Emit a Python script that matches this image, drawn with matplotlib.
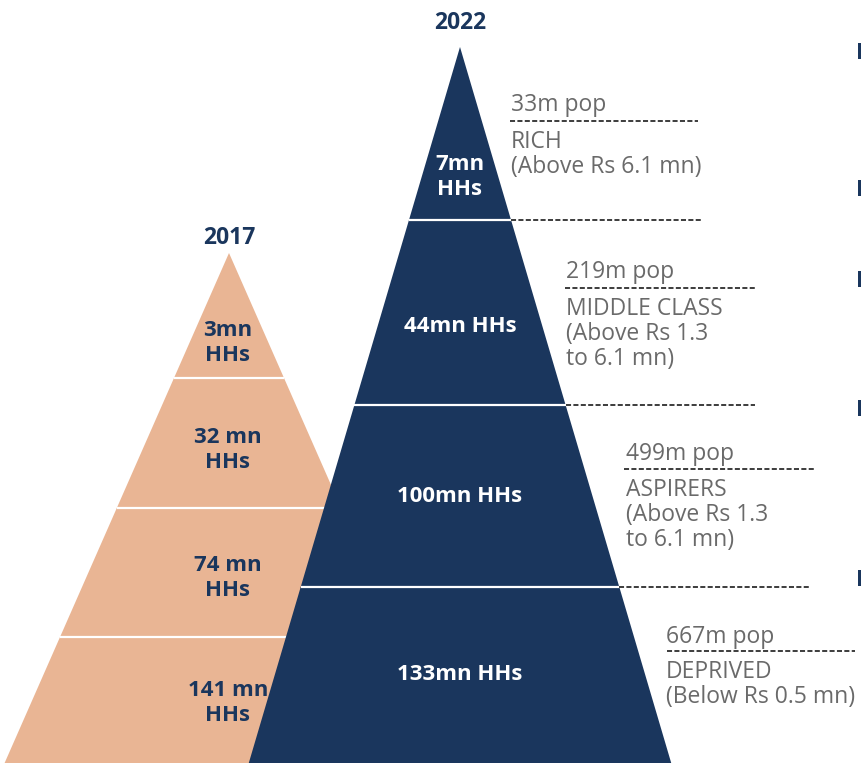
import numpy as np
import matplotlib.pyplot as plt

# labels
years = ["2017", "2022"]
hh_2017 = ["3mn\nHHs", "32 mn\nHHs", "74 mn\nHHs", "141 mn\nHHs"]
hh_2022 = ["7mn\nHHs", "44mn HHs", "100mn HHs", "133mn HHs"]
pop_2022 = ["33m pop", "219m pop", "499m pop", "667m pop"]
classes = ["RICH\n(Above Rs 6.1 mn)",
           "MIDDLE CLASS\n(Above Rs 1.3\nto 6.1 mn)",
           "ASPIRERS\n(Above Rs 1.3\nto 6.1 mn)",
           "DEPRIVED\n(Below Rs 0.5 mn)"]

NAVY = "#1a365d"
TAN = "#e9b594"
GRAY = "#6a6a6a"
DASH = "#3c3c3c"

plt.rcParams['font.family'] = ['Open Sans', 'DejaVu Sans']

fig = plt.figure(figsize=(8.62, 7.63), dpi=100)
ax = fig.add_axes([0, 0, 1, 1])
ax.set_xlim(0, 862)
ax.set_ylim(763, 0)
ax.axis("off")

BOTTOM = 763


def pyramid(apex_x, apex_y, slope, bounds, color, z):
    half = (BOTTOM - apex_y) * slope
    ax.fill([apex_x, apex_x + half, apex_x - half], [apex_y, BOTTOM, BOTTOM],
            color=color, lw=0, zorder=z)
    for b in bounds:
        w = (b - apex_y) * slope
        ax.plot([apex_x - w, apex_x + w], [b, b], color="white", lw=1.6,
                solid_capstyle="butt", zorder=z + 0.5)
    return lambda y: (y - apex_y) * slope


# 2017 pyramid
bounds_17 = [378, 508, 637]
pyramid(229, 253, 0.44, bounds_17, TAN, 1)
ax.text(229, 238, years[0], ha="center", va="center", fontsize=16.5,
        fontweight="bold", color=NAVY, zorder=5)
lab_y17 = [343, 450, 578, 703]
for lab, y in zip(hh_2017, lab_y17):
    ax.text(228, y, lab, ha="center", va="center", fontsize=16,
            fontweight="bold", color=NAVY, linespacing=1.2, zorder=5)

# 2022 pyramid
bounds_22 = [220, 405, 587]
hw = pyramid(460, 47, 0.295, bounds_22, NAVY, 2)
ax.text(460, 23, years[1], ha="center", va="center", fontsize=16.5,
        fontweight="bold", color=NAVY, zorder=5)
lab_y22 = [177, 326, 496, 674]
for lab, y in zip(hh_2022, lab_y22):
    ax.text(460, y, lab, ha="center", va="center", fontsize=16,
            fontweight="bold", color="white", linespacing=1.2, zorder=5)

# side annotations
dash = dict(color=DASH, lw=1.4, linestyle=(0, (2.6, 1.2)), zorder=3)
text_x = [511, 566, 626, 666]
pop_y = [105, 272, 454, 637]
pop_line = [(510, 698, 121), (565, 756, 288), (624, 816, 469), (667, 855, 651)]
for i in range(4):
    ax.text(text_x[i], pop_y[i], pop_2022[i], ha="left", va="center",
            fontsize=16.5, color=GRAY)
    x0, x1, yl = pop_line[i]
    ax.plot([x0, x1], [yl, yl], **dash)
    ax.text(text_x[i], yl + 9, classes[i], ha="left", va="top",
            fontsize=16.5, color=GRAY, linespacing=1.05)

bound_end = [702, 755, 810]
for b, xe in zip(bounds_22, bound_end):
    ax.plot([460 + hw(b), xe], [b, b], **dash)

# cut-off bullets on the right edge
for y in [51, 188, 279, 408, 578]:
    ax.add_patch(plt.Rectangle((858, y - 8), 6, 16, color=NAVY, lw=0))

fig.savefig("out.png", dpi=100)
